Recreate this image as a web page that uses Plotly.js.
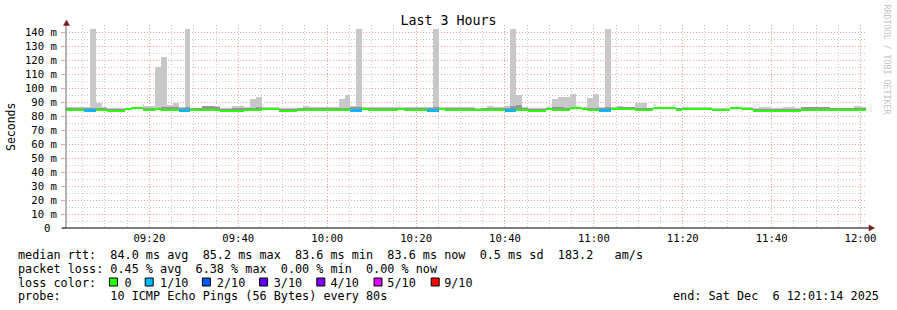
<!DOCTYPE html>
<html><head><meta charset="utf-8">
<script src="https://cdn.plot.ly/plotly-3.0.1.min.js"></script>
<style>html,body{margin:0;padding:0;background:#fff;} #chart{width:897px;height:310px;}</style>
</head><body><div id="chart"></div>
<script>
// ---- data ----
const stepStartUTC = Date.UTC(2025, 11, 6, 9, 1, 14);
const stepSeconds = 80;
const rangeStart = '2025-12-06 09:01:14';
const rangeEnd = '2025-12-06 12:01:14';

// max of the 10 pings per step (ms)
const maxPing = [
 86.2, 86.2, 86.2, 86.4, 142, 89.0, 86.4, 85.6, 85.6, 85.6,
 86.0, 86.4, 86.4, 86.9, 86.9, 115, 122, 88.0, 89.0, 86.6,
 142, 86.0, 86.0, 86.6, 86.8, 86.8, 85.8, 85.8, 87.0, 87.0,
 86.4, 92.0, 93.5, 86.2, 86.2, 86.2, 85.6, 85.6, 85.6, 86.0,
 86.8, 86.4, 86.4, 86.4, 86.4, 86.4, 92.0, 95.0, 86.8, 142,
 86.4, 86.2, 86.2, 86.2, 86.2, 86.2, 86.6, 86.2, 86.4, 86.2,
 86.2, 86.6, 142, 86.4, 86.4, 86.4, 86.4, 86.4, 86.2, 86.0,
 86.0, 87.2, 86.4, 86.4, 86.8, 142, 95.0, 86.4, 85.8, 85.8,
 85.8, 86.4, 92.0, 93.5, 93.5, 95.7, 86.4, 86.4, 92.8, 95.5,
 86.6, 142, 86.4, 86.9, 86.6, 86.6, 89.5, 89.5, 86.0, 86.4,
 86.4, 86.4, 86.4, 86.0, 86.4, 86.4, 86.2, 86.2, 86.2, 86.0,
 86.0, 86.0, 86.6, 86.6, 86.6, 86.4, 85.8, 86.2, 86.2, 85.8,
 85.8, 86.2, 86.2, 85.8, 86.6, 86.6, 86.6, 86.6, 86.6, 86.0,
 86.0, 86.0, 86.0, 86.8, 86.6
];
// upper inner smoke (ms)
const upperPing = [
 85.6, 85.6, 85.6, 86.0, 86.0, 85.4, 85.4, 84.8, 84.8, 84.8,
 85.4, 85.8, 85.8, 85.8, 85.8, 86.0, 86.4, 86.4, 86.4, 86.0,
 86.2, 85.4, 85.4, 86.8, 86.8, 86.6, 85.0, 85.0, 86.0, 86.0,
 85.6, 86.0, 86.2, 85.6, 85.6, 85.6, 85.0, 85.0, 85.0, 85.4,
 85.6, 85.6, 85.6, 85.6, 85.6, 85.6, 85.8, 86.0, 86.4, 86.4,
 85.8, 85.4, 85.4, 85.4, 85.4, 85.4, 85.8, 85.4, 86.0, 85.6,
 85.6, 86.0, 86.2, 85.6, 85.4, 85.4, 85.4, 85.4, 85.4, 85.2,
 85.4, 85.8, 85.8, 85.8, 86.0, 87.5, 88.0, 86.0, 85.2, 85.2,
 85.2, 85.8, 86.2, 86.2, 86.0, 86.4, 85.8, 85.8, 86.0, 86.0,
 86.0, 86.2, 85.8, 86.6, 86.2, 86.2, 85.6, 85.6, 85.4, 85.8,
 85.8, 85.8, 85.8, 85.4, 85.8, 85.8, 85.6, 85.6, 85.6, 85.2,
 85.2, 85.2, 86.0, 86.0, 86.0, 85.8, 85.0, 85.2, 85.2, 85.0,
 85.0, 85.2, 85.2, 85.0, 86.2, 86.2, 86.2, 86.2, 86.2, 85.4,
 85.4, 85.4, 85.4, 85.6, 85.6
];
// median rtt (ms)
const medianRtt = [
 84.0, 84.0, 84.0, 84.0, 84.0, 84.0, 84.3, 83.6, 83.6, 83.6,
 84.6, 85.2, 85.2, 84.0, 84.0, 84.6, 84.0, 84.0, 84.0, 84.0,
 84.0, 84.0, 84.0, 84.0, 84.0, 84.0, 83.6, 83.6, 83.6, 83.6,
 84.0, 84.0, 84.0, 84.6, 84.6, 84.6, 83.6, 83.6, 83.6, 84.0,
 84.0, 84.0, 84.0, 84.0, 84.0, 84.0, 84.0, 84.0, 84.0, 84.0,
 84.9, 84.0, 84.0, 84.0, 84.3, 84.0, 85.0, 84.3, 84.0, 84.0,
 84.0, 84.0, 84.0, 84.6, 84.0, 84.0, 84.0, 84.0, 84.0, 84.0,
 84.0, 84.0, 84.0, 84.0, 84.0, 84.0, 84.0, 84.3, 83.6, 83.6,
 83.6, 84.6, 84.0, 84.0, 84.0, 85.2, 85.2, 84.6, 84.0, 84.0,
 84.0, 84.0, 84.9, 84.6, 84.6, 84.6, 84.0, 84.0, 84.0, 85.2,
 85.2, 85.2, 85.2, 84.0, 85.0, 85.0, 84.6, 84.6, 84.6, 84.0,
 84.0, 84.0, 85.2, 85.2, 85.0, 85.0, 83.6, 83.6, 83.6, 83.6,
 83.6, 83.6, 83.6, 83.6, 84.0, 84.0, 84.0, 84.0, 84.0, 84.0,
 84.0, 84.0, 84.0, 84.0, 84.0
];
// lost pings out of 10 per step
const lossPings = [
 0,0,0,1,1,0,0,0,0,0,
 0,0,0,0,0,0,0,0,0,1,
 1,0,0,0,0,0,0,0,0,0,
 0,0,0,0,0,0,0,0,0,0,
 0,0,0,0,0,0,0,0,1,1,
 0,0,0,0,0,0,0,0,0,0,
 0,1,1,0,0,0,0,0,0,0,
 0,0,0,0,1,1,0,0,0,0,
 0,0,0,0,0,0,0,0,0,0,
 1,1,0,0,0,0,0,0,0,0,
 0,0,0,0,0,0,0,0,0,0,
 0,0,0,0,0,0,0,0,0,0,
 0,0,0,0,0,0,0,0,0,0,
 0,0,0,0,0
];
const lossPalette = ['#26ff00','#00b8ff','#0059ff','#5e00ff','#7e00ff','#dd00ff','#ff0000','#ff0000','#ff0000','#ff0000','#ff0000'];
const lossLegendLabels = ['0','1/10','2/10','3/10','4/10','5/10','9/10'];
const lossLegendColors = ['#26ff00','#00b8ff','#0059ff','#5e00ff','#7e00ff','#dd00ff','#ff0000'];

const yTickValues = [0,10,20,30,40,50,60,70,80,90,100,110,120,130,140];
const yTickLabels = ['0\u00a0','10 m','20 m','30 m','40 m','50 m','60 m','70 m','80 m','90 m','100 m','110 m','120 m','130 m','140 m'];

const chartTitle = 'Last 3 Hours';
const yTitle = 'Seconds';
const statsLine1 = 'median rtt:  84.0 ms avg  85.2 ms max  83.6 ms min  83.6 ms now  0.5 ms sd  183.2   am/s';
const statsLine2 = 'packet loss: 0.45 % avg  6.38 % max  0.00 % min  0.00 % now';
const lossLine = 'loss color:    0    1/10    2/10    3/10    4/10    5/10    9/10';
const probeLine = 'probe:       10 ICMP Echo Pings (56 Bytes) every 80s';
const endLine = 'end: Sat Dec  6 12:01:14 2025';
const creditLine = 'RRDTOOL / TOBI OETIKER';

// ---- layout helpers ----
const W = 897, H = 310, L = 66, R = 31, T = 25, B = 82;
const PW = W - L - R, PH = H - T - B;
const px = p => (p - L) / PW;
const py = p => (H - B - p) / PH;
const nb = s => s.replace(/ /g, '\u00a0');
const MONO = 'DejaVu Sans Mono, monospace';

const xs = maxPing.map((_, i) => stepStartUTC + (i + 0.5) * stepSeconds * 1000);
const barW = stepSeconds * 1000;

const traces = [
  {type:'bar', x:xs, base:medianRtt, y:maxPing.map((v,i)=>v-medianRtt[i]), width:barW,
   marker:{color:'#c8c8c8', line:{width:0}}, hoverinfo:'skip'},
  {type:'bar', x:xs, base:medianRtt, y:upperPing.map((v,i)=>v-medianRtt[i]), width:barW,
   marker:{color:'#969696', line:{width:0}}, hoverinfo:'skip'},
  {type:'bar', x:xs,
   base:medianRtt.map((m,i)=> m - (lossPings[i] ? 1.1 : 0.45)),
   y:lossPings.map(l => l ? 2.1 : 1.45), width:barW,
   marker:{color:lossPings.map(l=>lossPalette[l]), line:{width:0}}, hoverinfo:'skip'}
];

const annotations = [
  {text:yTitle, xref:'paper', yref:'paper', x:px(11), y:py(127), textangle:-90, showarrow:false,
   font:{family:MONO, size:11.5, color:'#000'}, xanchor:'center', yanchor:'middle'},
  {text:creditLine, xref:'paper', yref:'paper', x:px(886.5), y:py(59), textangle:90, showarrow:false,
   font:{family:MONO, size:8.3, color:'#c4c4c4'}, xanchor:'center', yanchor:'middle'}
];
const lineY = [254.5, 268.5, 282.5, 296];
[statsLine1, statsLine2, lossLine, probeLine].forEach((s, k) => {
  annotations.push({text:nb(s), xref:'paper', yref:'paper', x:px(16), y:py(lineY[k]), showarrow:false,
    xanchor:'left', yanchor:'middle', font:{family:MONO, size:11.8, color:'#000'}});
});
annotations.push({text:nb(endLine), xref:'paper', yref:'paper', x:px(881), y:py(lineY[3]), showarrow:false,
  xanchor:'right', yanchor:'middle', font:{family:MONO, size:11.8, color:'#000'}});

const shapes = [];
// loss colour squares
const squareChar = [13, 18, 26, 34, 42, 50, 58];
lossLegendColors.forEach((c, k) => {
  const x0 = 16 + squareChar[k] * 7.15 + 0.5;
  shapes.push({type:'rect', xref:'paper', yref:'paper', x0:px(x0), x1:px(x0+8), y0:py(286), y1:py(278),
    fillcolor:c, line:{color:'#000', width:1}, layer:'above'});
});
// axis lines
shapes.push({type:'line', xref:'paper', yref:'paper', x0:0, x1:0, y0:0, y1:py(23), line:{color:'#6e6e6e', width:1}, layer:'above'});
shapes.push({type:'line', xref:'paper', yref:'paper', x0:px(62), x1:px(870), y0:0, y1:0, line:{color:'#000', width:1.2}, layer:'above'});
// arrows
const triUp = `M ${px(63.5)} ${py(25.5)} L ${px(69.5)} ${py(25.5)} L ${px(66.5)} ${py(20)} Z`;
const triRight = `M ${px(869)} ${py(225)} L ${px(869)} ${py(231)} L ${px(874.5)} ${py(228)} Z`;
shapes.push({type:'path', xref:'paper', yref:'paper', path:triUp, fillcolor:'#7a1d1d', line:{color:'#7a1d1d', width:0.5}, layer:'above'});
shapes.push({type:'path', xref:'paper', yref:'paper', path:triRight, fillcolor:'#7a1d1d', line:{color:'#7a1d1d', width:0.5}, layer:'above'});

const majorGrid = '#eba0a0', minorGrid = '#cacaca', dash = '1px,2px';

const layout = {
  width:W, height:H,
  margin:{l:L, r:R, t:T, b:B, pad:0},
  paper_bgcolor:'#fff', plot_bgcolor:'#fff',
  showlegend:false, barmode:'overlay', bargap:0,
  title:{text:chartTitle, font:{family:MONO, size:13.3, color:'#000'}, x:0.5, xanchor:'center',
         y:1 - 20/H, yanchor:'middle', yref:'container'},
  xaxis:{type:'date', range:[rangeStart, rangeEnd], tick0:'2025-12-06 09:00:00', dtick:1200000,
         tickformat:'%H:%M', showgrid:true, gridcolor:majorGrid, griddash:dash, gridwidth:1,
         minor:{tick0:'2025-12-06 09:00:00', dtick:300000, showgrid:true, gridcolor:minorGrid, griddash:dash, gridwidth:1},
         showline:false, zeroline:false, ticks:'', ticklabelstandoff:2,
         tickfont:{family:MONO, size:10.6, color:'#000'}, fixedrange:true},
  yaxis:{range:[0,145], tickmode:'array', tickvals:yTickValues, ticktext:yTickLabels,
         showgrid:true, gridcolor:majorGrid, griddash:dash, gridwidth:1,
         minor:{dtick:5, showgrid:true, gridcolor:minorGrid, griddash:dash, gridwidth:1},
         showline:false, zeroline:false, ticks:'outside', ticklen:4, tickcolor:majorGrid, ticklabelstandoff:2,
         tickfont:{family:MONO, size:10.6, color:'#000'}, fixedrange:true},
  annotations:annotations, shapes:shapes
};

Plotly.newPlot('chart', traces, layout, {staticPlot:true, displayModeBar:false});
</script>
</body></html>
